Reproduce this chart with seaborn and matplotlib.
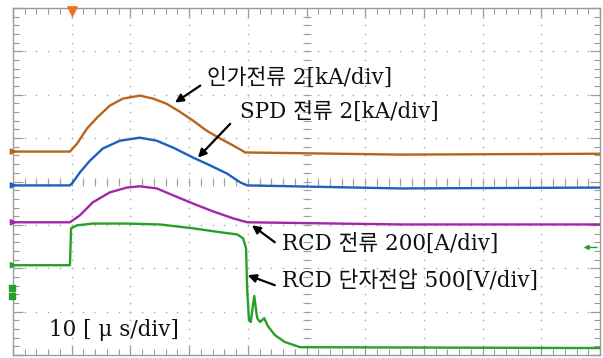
import numpy as np
import pandas as pd
import matplotlib
matplotlib.use("Agg")
import matplotlib.pyplot as plt
import seaborn as sns

# --- data (in scope divisions: x 0..10, y 0..8) ---
applied_x = [0, 0.97, 1.09, 1.26, 1.43, 1.65, 1.87, 2.16, 2.39, 2.62, 2.84, 3.07, 3.30,
             3.53, 3.75, 3.92, 3.95, 6.59, 10]
applied_y = [4.69, 4.69, 4.87, 5.22, 5.47, 5.75, 5.91, 5.98, 5.91, 5.79, 5.61, 5.40, 5.17,
             4.99, 4.83, 4.70, 4.67, 4.62, 4.64]

spd_x = [0, 0.97, 1.02, 1.14, 1.31, 1.53, 1.82, 2.16, 2.45, 2.73, 3.07, 3.36, 3.65, 3.87,
         3.99, 6.59, 10]
spd_y = [3.91, 3.91, 3.98, 4.21, 4.48, 4.76, 4.94, 5.01, 4.94, 4.78, 4.55, 4.37, 4.18, 3.98,
         3.91, 3.84, 3.86]

rcdi_x = [0, 0.97, 1.14, 1.36, 1.65, 1.94, 2.16, 2.45, 2.73, 3.07, 3.41, 3.75, 3.99, 6.59, 10]
rcdi_y = [3.06, 3.06, 3.22, 3.52, 3.75, 3.86, 3.89, 3.84, 3.68, 3.49, 3.31, 3.15, 3.06, 3.01,
          3.01]

rcdv_x = [0, 0.97, 0.99, 1.09, 1.36, 1.94, 2.50, 3.07, 3.53, 3.82, 3.92, 3.97, 3.99,
          4.02, 4.05, 4.11, 4.16, 4.21, 4.28, 4.34, 4.46, 4.63, 4.89, 10]
rcdv_y = [2.07, 2.07, 2.92, 2.99, 3.03, 3.03, 3.01, 2.92, 2.83, 2.78, 2.69, 2.46, 1.49,
          0.80, 0.76, 1.36, 0.85, 0.76, 0.85, 0.67, 0.46, 0.30, 0.18, 0.16]

labels = ["인가전류 2[kA/div]", "SPD 전류 2[kA/div]", "RCD 전류 200[A/div]",
          "RCD 단자전압 500[V/div]"]
time_label = "10 [ μ s/div]"

colors = ["#b5651d", "#1e5fc0", "#a326a6", "#27a027"]

series = [(applied_x, applied_y), (spd_x, spd_y), (rcdi_x, rcdi_y), (rcdv_x, rcdv_y)]
frames = []
for i, (xs, ys) in enumerate(series):
    frames.append(pd.DataFrame({"t": xs, "v": ys, "ch": labels[i]}))
df = pd.concat(frames, ignore_index=True)

sns.set_style("white")
plt.rcParams['font.family'] = ['DejaVu Serif', 'Noto Sans CJK KR']

fig = plt.figure(figsize=(6.03, 3.58), dpi=100)
ax = fig.add_axes([13/603, 3/358, 587/603, 347/358])

# dotted graticule
gx = np.arange(1, 10, 1.0)
gy = np.arange(1, 8, 1.0)
fine_x = np.arange(0, 10.001, 0.2)
fine_y = np.arange(0, 8.001, 0.2)
vx, vy = np.meshgrid(gx, fine_y)
hx, hy = np.meshgrid(fine_x, gy)
ax.scatter(vx.ravel(), vy.ravel(), s=1.6, color="#b4b4b4", linewidths=0, zorder=1)
ax.scatter(hx.ravel(), hy.ravel(), s=1.6, color="#b4b4b4", linewidths=0, zorder=1)

sns.lineplot(data=df, x="t", y="v", hue="ch", palette=colors, linewidth=1.7,
             legend=False, ax=ax, sort=False, estimator=None, zorder=3)

ax.set_xlim(0, 10)
ax.set_ylim(0, 8)
ax.set_xlabel("")
ax.set_ylabel("")
ax.set_xticks(np.arange(0, 10.01, 1))
ax.set_yticks(np.arange(0, 8.01, 1))
ax.set_xticklabels([])
ax.set_yticklabels([])
ax.grid(False)
for s in ax.spines.values():
    s.set_color("#9a9a9a")
    s.set_linewidth(1.0)
ax.tick_params(which="both", direction="in", color="#9a9a9a", top=True, right=True,
               bottom=True, left=True)
ax.tick_params(which="major", length=7, width=0.9)
ax.set_xticks(np.arange(0, 10.01, 0.2), minor=True)
ax.set_yticks(np.arange(0, 8.01, 0.2), minor=True)
ax.tick_params(which="minor", length=4, width=0.8)

# centre cross tick marks
ax.scatter(fine_x, np.full_like(fine_x, 4.0), marker="|", s=40, color="#a0a0a0",
           linewidths=0.8, zorder=2)
ax.scatter(np.full_like(fine_y, 5.0), fine_y, marker="_", s=40, color="#a0a0a0",
           linewidths=0.8, zorder=2)

# trigger marker and channel markers
ax.scatter([1.0], [7.93], marker="v", s=45, color="#f07020", clip_on=False, zorder=5)
base_levels = [applied_y[0], spd_y[0], rcdi_y[0], rcdv_y[0]]
ax.scatter([0.0] * 4, base_levels, marker=">", s=14, color=colors, clip_on=False, zorder=5)
ax.scatter([-0.02, -0.02], [1.54, 1.36], marker="s", s=14, color="#27a027", clip_on=False,
           zorder=5)
ax.annotate("", xy=(9.72, 2.48), xytext=(9.95, 2.48),
            arrowprops=dict(arrowstyle="-|>", color="#27a027", lw=1.0, mutation_scale=7,
                            shrinkA=0, shrinkB=0))

text_kw = dict(fontsize=15.5, color="#111111", va="center", ha="left")
ax.text(3.30, 6.39, labels[0], **text_kw)
ax.text(3.87, 5.61, labels[1], **text_kw)
ax.text(4.58, 2.57, labels[2], **text_kw)
ax.text(4.58, 1.70, labels[3], **text_kw)
ax.text(0.61, 0.57, time_label, **text_kw)

arrows = [((3.19, 6.21), (2.76, 5.82)), ((3.70, 5.33), (3.15, 4.55)),
          ((4.46, 2.60), (4.07, 2.99)), ((4.46, 1.61), (4.0, 1.84))]
for tail, head in arrows:
    ax.annotate("", xy=head, xytext=tail,
                arrowprops=dict(arrowstyle="-|>", color="black", lw=1.6,
                                mutation_scale=12, shrinkA=0, shrinkB=0))

fig.savefig("out.png", dpi=100)
